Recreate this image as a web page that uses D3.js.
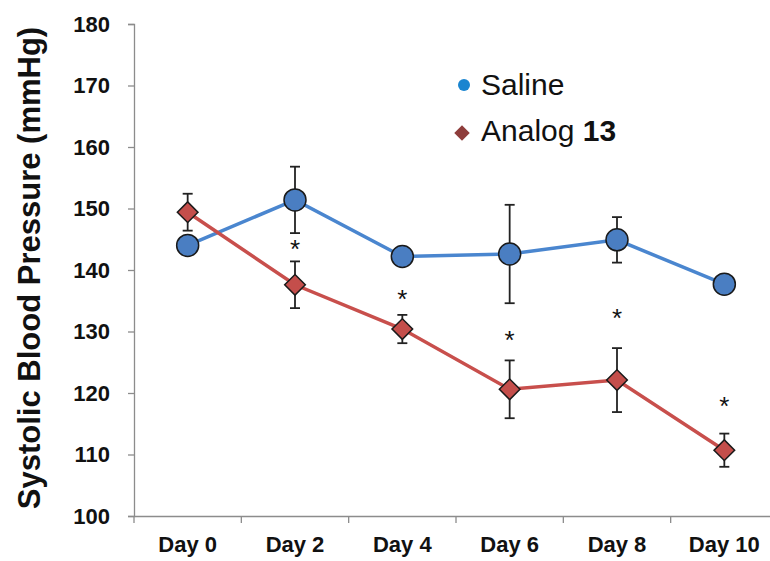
<!DOCTYPE html>
<html><head><meta charset="utf-8">
<script src="https://cdn.jsdelivr.net/npm/d3@7"></script>
<style>body{margin:0;background:#fff}svg{display:block;font-family:"Liberation Sans",Arial,sans-serif}</style>
</head><body><svg id="c" width="770" height="561"></svg>
<script>
const days = ["Day 0","Day 2","Day 4","Day 6","Day 8","Day 10"];
const saline = [144.0,151.4,142.2,142.6,144.9,137.7];
const salineErr = [0.8,5.4,1.0,8.0,3.7,0.8];
const analog = [149.4,137.6,130.4,120.6,122.1,110.7];
const analogErr = [3.0,3.8,2.3,4.7,5.2,2.7];
const starVals = [null,144.0,135.9,129.2,132.8,118.6];
const yTicks = [100,110,120,130,140,150,160,170,180];

const svg = d3.select("#c");
const x = d3.scaleBand().domain(days).range([134,778]);
const y = d3.scaleLinear().domain([100,180]).range([516,24]);
const cx = d => x(d)+x.bandwidth()/2;
const FF = "Liberation Sans, Arial, sans-serif";

// y axis
const ya = svg.append("g").attr("transform","translate(134,0)").call(d3.axisLeft(y).tickValues(yTicks).tickSize(6).tickPadding(18));
ya.attr("font-size",null).attr("font-family",null);
ya.select(".domain").attr("stroke","#8c8c8c").attr("stroke-width",1.3);
ya.selectAll(".tick line").attr("stroke","#8c8c8c").attr("stroke-width",1.3);
ya.selectAll(".tick text").style("font-size","22px").style("font-weight","bold").attr("fill","#111").style("font-family",FF);

// x axis
const xa = svg.append("g").attr("transform","translate(0,516)").call(d3.axisBottom(x).tickSize(0).tickPadding(20));
xa.attr("font-size",null).attr("font-family",null);
xa.select(".domain").attr("stroke","#8c8c8c").attr("stroke-width",1.3);
xa.selectAll(".tick text").style("font-size","22px").style("font-weight","bold").attr("fill","#111").style("font-family",FF);
// boundary ticks
svg.append("g").selectAll("line").data(days).join("line")
  .attr("x1",d=>x(d)).attr("x2",d=>x(d)).attr("y1",516).attr("y2",523)
  .attr("stroke","#8c8c8c").attr("stroke-width",1.3);

// y title
svg.append("text").attr("transform","translate(40,268) rotate(-90)").attr("text-anchor","middle")
  .style("font-size","31px").style("font-weight","bold").attr("fill","#111").text("Systolic Blood Pressure (mmHg)");

const line = d3.line().x((d,i)=>cx(days[i])).y(d=>y(d));
svg.append("path").datum(saline).attr("d",line).attr("fill","none").attr("stroke","#4a86cf").attr("stroke-width",3.5);
svg.append("path").datum(analog).attr("d",line).attr("fill","none").attr("stroke","#c84f4c").attr("stroke-width",3.5);

function errBars(vals, errs){
  const g = svg.append("g").attr("stroke","#222").attr("stroke-width",1.8);
  vals.forEach((v,i)=>{
    const X = cx(days[i]), t = y(v+errs[i]), b = y(v-errs[i]);
    g.append("line").attr("x1",X).attr("x2",X).attr("y1",t).attr("y2",b);
    g.append("line").attr("x1",X-5).attr("x2",X+5).attr("y1",t).attr("y2",t);
    g.append("line").attr("x1",X-5).attr("x2",X+5).attr("y1",b).attr("y2",b);
  });
}
errBars(saline, salineErr);
errBars(analog, analogErr);

// markers
svg.append("g").selectAll("circle").data(saline).join("circle")
  .attr("cx",(d,i)=>cx(days[i])).attr("cy",d=>y(d)).attr("r",11)
  .attr("fill","#4a7ec2").attr("stroke","#1a1a1a").attr("stroke-width",1.5);
svg.append("g").selectAll("path").data(analog).join("path")
  .attr("transform",(d,i)=>`translate(${cx(days[i])},${y(d)}) rotate(45)`)
  .attr("d","M-7.3,-7.3H7.3V7.3H-7.3Z")
  .attr("fill","#c44e4b").attr("stroke","#1a1a1a").attr("stroke-width",1.5);

// asterisks
svg.append("g").selectAll("text").data(starVals.map((v,i)=>({v,i})).filter(d=>d.v!==null)).join("text")
  .attr("x",d=>cx(days[d.i])).attr("y",d=>y(d.v)+13)
  .attr("text-anchor","middle").style("font-size","26px").attr("fill","#111").text("*");

// legend
svg.append("circle").attr("cx",464).attr("cy",85).attr("r",6).attr("fill","#1a85d0");
svg.append("text").attr("x",481).attr("y",95).style("font-size","30px").attr("fill","#111").text("Saline");
svg.append("path").attr("transform","translate(462,133) rotate(45)").attr("d","M-5.5,-5.5H5.5V5.5H-5.5Z").attr("fill","#8e3d3b");
const lt = svg.append("text").attr("x",481).attr("y",141).style("font-size","30px").attr("fill","#111");
lt.append("tspan").text("Analog ");
lt.append("tspan").style("font-weight","bold").text("13");
</script></body></html>
